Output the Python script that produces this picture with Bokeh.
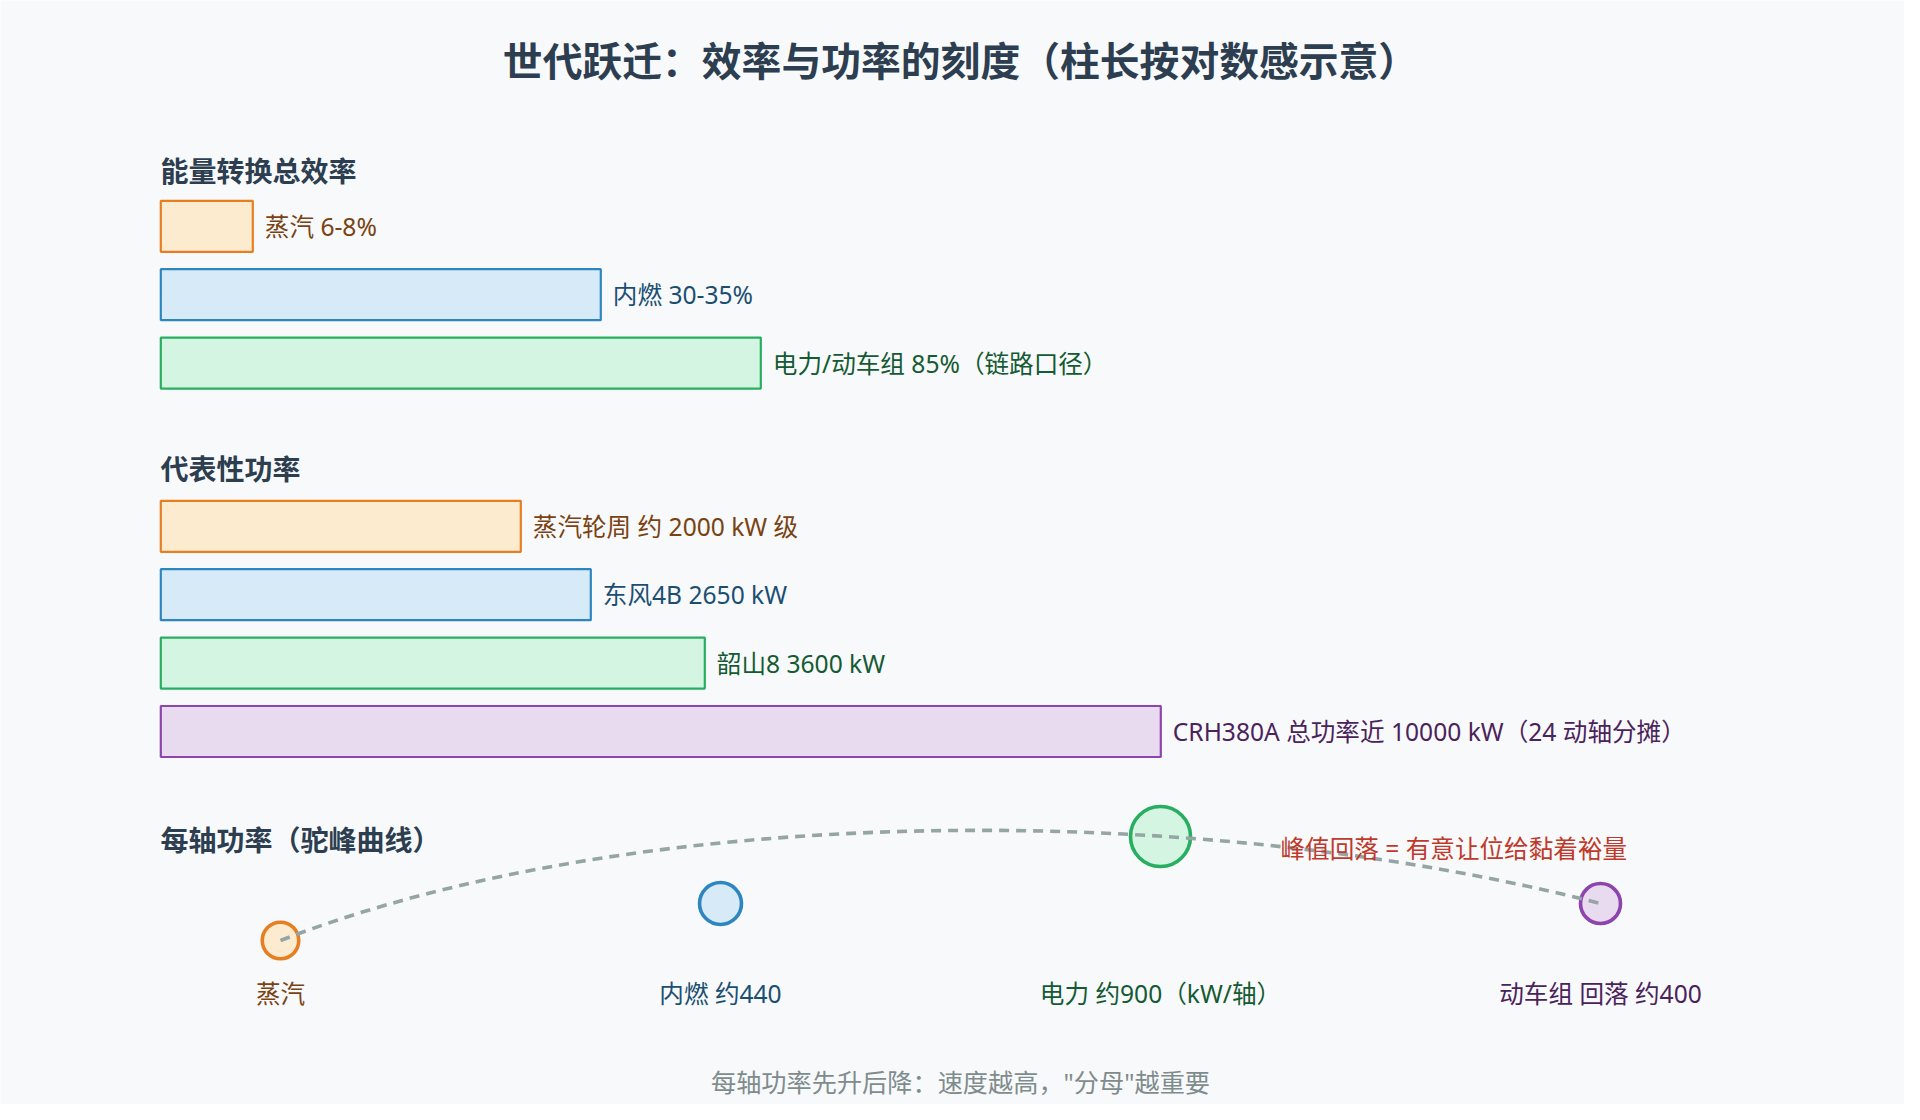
from bokeh.plotting import figure
from bokeh.models import Range1d
from bokeh.core.properties import value
from bokeh.embed import file_html
from bokeh.resources import INLINE

# ---------------- data ----------------
title_text = "世代跃迁：效率与功率的刻度（柱长按对数感示意）"
section_titles = ["能量转换总效率", "代表性功率", "每轴功率（驼峰曲线）"]

eff_labels = ["蒸汽 6-8%", "内燃 30-35%", "电力/动车组 85%（链路口径）"]
eff_len = [9.2, 44.0, 60.0]          # 示意柱长（对数感，CRH380A = 100）

pow_labels = ["蒸汽轮周 约 2000 kW 级", "东风4B 2650 kW", "韶山8 3600 kW",
              "CRH380A 总功率近 10000 kW（24 动轴分摊）"]
pow_len = [36.0, 43.0, 54.4, 100.0]  # 示意柱长

axle_labels = ["蒸汽", "内燃 约440", "电力 约900（kW/轴）", "动车组 回落 约400"]
axle_idx = [0, 1, 2, 3]
axle_kw = [333, 440, 900, 400]       # 每轴功率 kW（蒸汽为估计）

note_text = "峰值回落 = 有意让位给黏着裕量"
footer_text = "每轴功率先升后降：速度越高，\"分母\"越重要"

# ---------------- styles ----------------
FONT = value("Noto Sans, Noto Sans CJK SC")
BG = "#f8f9fb"
DARK = "#2c3e50"
fills = ["#fdebd0", "#d6eaf8", "#d5f5e3", "#e8daef"]
strokes = ["#e67e22", "#2e86c1", "#27ae60", "#8e44ad"]
txtcol = ["#784212", "#1b4f72", "#145a32", "#4a235a"]
LABEL_SIZE = "24.6px"

W, H = 1904, 1104
p = figure(width=W, height=H, output_backend="svg", toolbar_location=None,
           x_range=Range1d(0, W), y_range=Range1d(H, 0),
           x_axis_type=None, y_axis_type=None, min_border=0,
           background_fill_color=BG, border_fill_color=BG,
           outline_line_color=None)
p.grid.visible = False

# bar length range: 0 -> px 160, 100 -> px 1160
BAR_X0 = 160.3
PX_PER = 10.0
p.extra_x_ranges = {"len": Range1d(-BAR_X0 / PX_PER, (W - BAR_X0) / PX_PER)}
# per-axle index range: 0 -> px 280, step 440 px
AX0, AXD = 280.0, 440.0
p.extra_x_ranges["axle"] = Range1d(-AX0 / AXD, (W - AX0) / AXD)

# title
p.text(x=[960], y=[60], text=[title_text], text_font=FONT, text_font_size="39.8px",
       text_font_style="bold", text_color=DARK, text_align="center",
       text_baseline="middle")

# section headings
head_y = [170, 468, 839]
p.text(x=[160] * 3, y=head_y, text=section_titles, text_font=FONT,
       text_font_size="28px", text_font_style="bold", text_color=DARK,
       text_align="left", text_baseline="middle")

BAR_H = 51.0
PITCH = 68.4


def bar_rows(lengths, labels, top0):
    n = len(lengths)
    tops = [top0 + i * PITCH for i in range(n)]
    bots = [t + BAR_H for t in tops]
    mids = [t + BAR_H / 2 for t in tops]
    p.quad(left=[0] * n, right=lengths, top=tops, bottom=bots,
           fill_color=fills[:n], line_color=strokes[:n], line_width=2.2,
           x_range_name="len")
    p.text(x=[v + 1.2 for v in lengths], y=mids, text=labels, text_font=FONT,
           text_font_size=LABEL_SIZE, text_color=txtcol[:n], text_align="left",
           text_baseline="middle", x_range_name="len")


bar_rows(eff_len, eff_labels, 200.3)
bar_rows(pow_len, pow_labels, 500.3)

# per-axle hump
axle_y = [940, 903, 836, 903]
sizes = [2 * (v ** 0.5) for v in axle_kw]
p.scatter(x=axle_idx, y=axle_y, size=sizes, marker="circle",
          fill_color=fills, line_color=strokes, line_width=3.6,
          x_range_name="axle")

# trend curve (cubic bezier from first to last point)
p.bezier(x0=[axle_idx[0]], y0=[axle_y[0]], x1=[axle_idx[-1]], y1=[axle_y[-1]],
         cx0=[(640 - AX0) / AXD], cy0=[800], cx1=[(1200 - AX0) / AXD], cy1=[800],
         line_color="#95a5a6", line_width=3.6, line_dash="10 7",
         x_range_name="axle")

p.text(x=axle_idx, y=[993] * 4, text=axle_labels, text_font=FONT,
       text_font_size=LABEL_SIZE, text_color=txtcol, text_align="center",
       text_baseline="middle", x_range_name="axle")

p.text(x=[1280], y=[848], text=[note_text], text_font=FONT,
       text_font_size=LABEL_SIZE, text_color="#c0392b", text_align="left",
       text_baseline="middle")

p.text(x=[960], y=[1081], text=[footer_text], text_font=FONT,
       text_font_size="25.2px", text_color="#7f8c8d", text_align="center",
       text_baseline="middle")

open("out.html", "w").write(file_html(p, INLINE))
